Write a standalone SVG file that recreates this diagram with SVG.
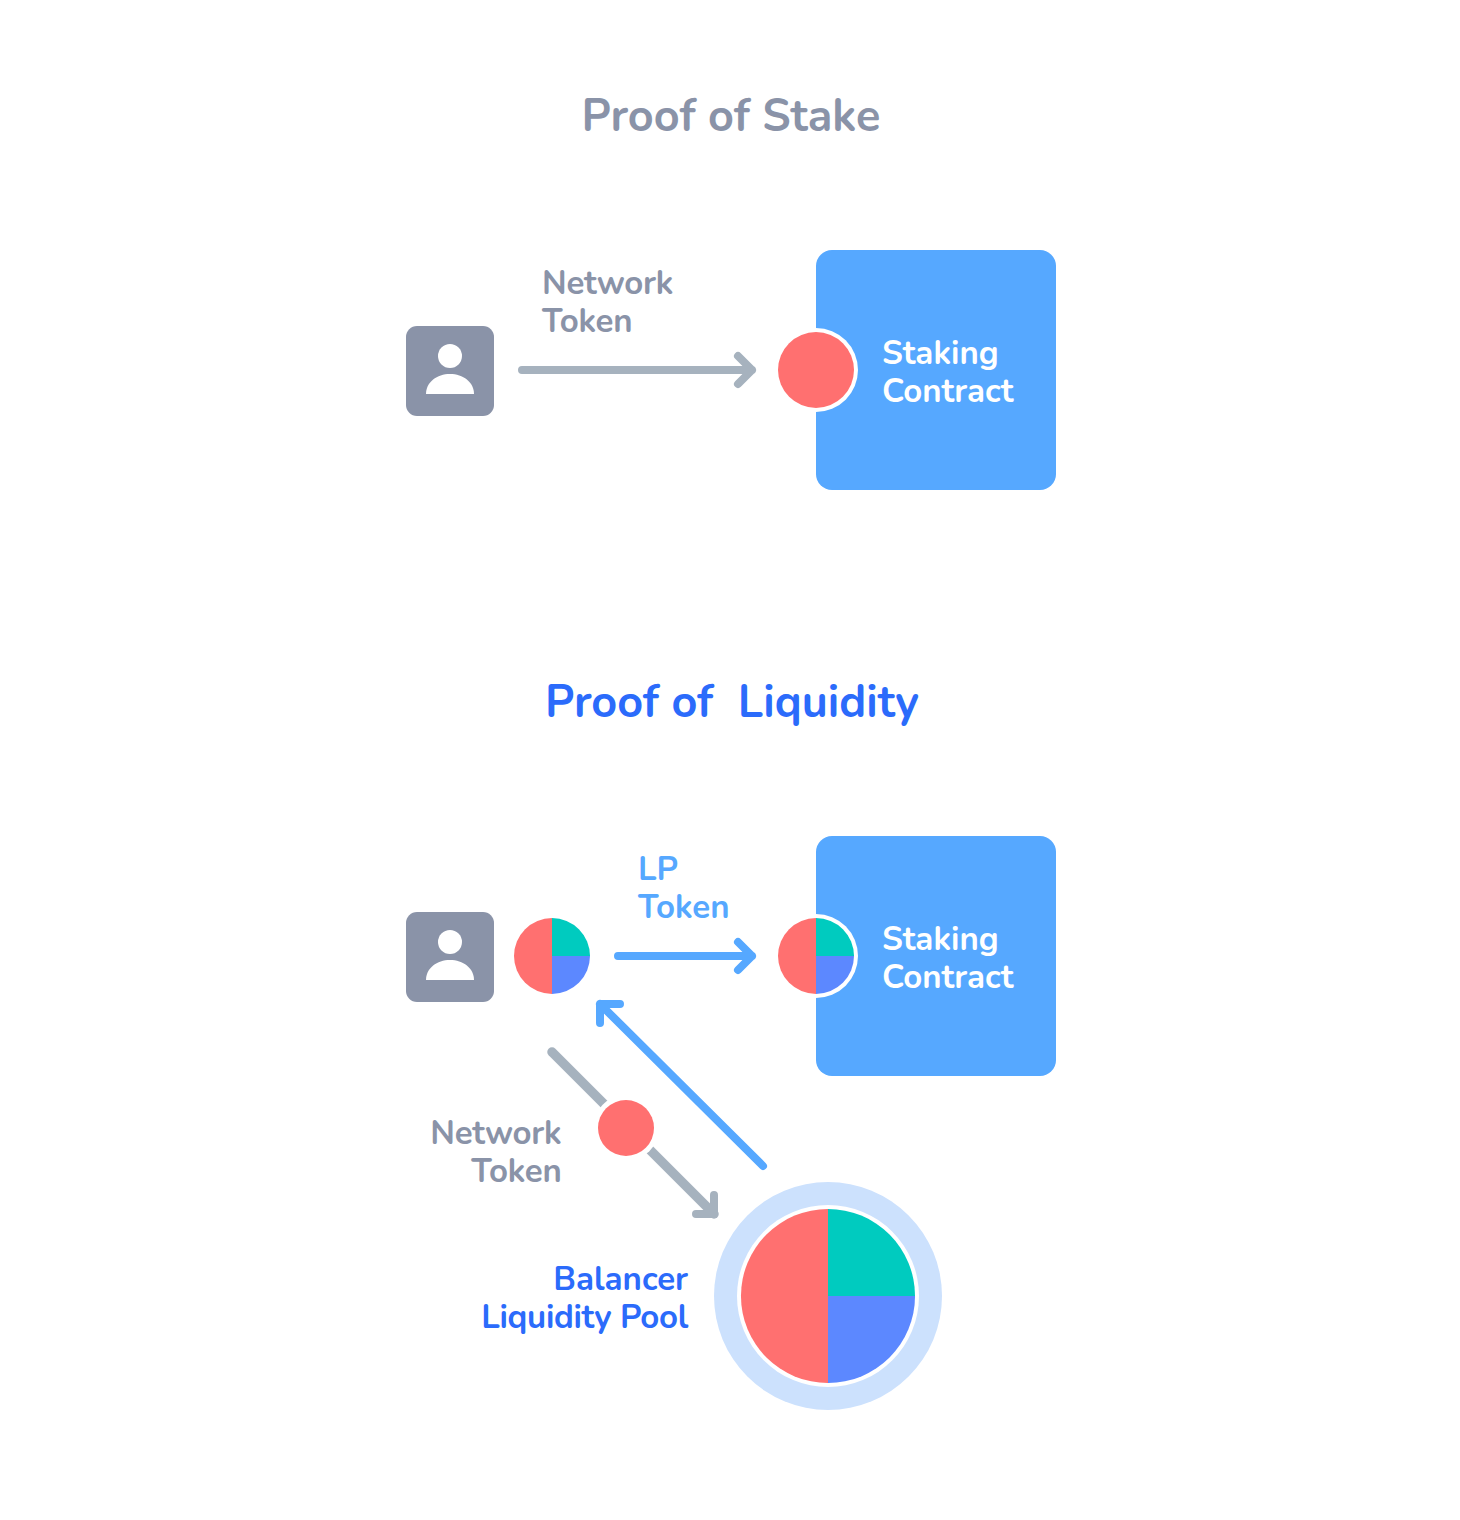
<svg xmlns="http://www.w3.org/2000/svg" width="1460" height="1520" viewBox="0 0 1460 1520">
<style>
text{font-family:"Nunito","Noto Sans","Open Sans",sans-serif;font-weight:700}
.t{font-size:45px;text-anchor:middle}
.l{font-size:33px}
.n{letter-spacing:-.25px}
.g{fill:#8A93A8}.w{fill:#fff}.b{fill:#2B6BFB}.lb{fill:#56A8FF}
.box{fill:#56A8FF}
.av{fill:#8A93A8}
.gl{stroke:#A6B2BE;stroke-width:8;fill:none;stroke-linecap:round;stroke-linejoin:round}
.bl{stroke:#56A8FF;stroke-width:8;fill:none;stroke-linecap:round;stroke-linejoin:round}
</style>
<defs>
<g id="person"><rect width="88" height="90" rx="11" class="av"/><circle cx="44" cy="30" r="12" class="w"/><path class="w" d="M20 68C20 56 31 48 44 48S68 56 68 68Z"/></g>
<g id="pie38"><path fill="#FF7070" d="M0-38A38 38 0 0 0 0 38Z"/><path fill="#00CBBF" d="M0 0V-38A38 38 0 0 1 38 0Z"/><path fill="#5C88FF" d="M0 0H38A38 38 0 0 1 0 38Z"/></g>
</defs>
<rect width="1460" height="1520" fill="#fff"/>
<text class="t g" x="731" y="130.500">Proof of Stake</text>
<g id="user1"><use href="#person" x="406" y="326"/></g>
<g id="contract1"><rect x="816" y="250" width="240" height="240" rx="16" class="box"/><circle cx="816" cy="370" r="42" fill="#fff"/><circle cx="816" cy="370" r="38" fill="#FF7070"/><text class="l w" y="364"><tspan x="882">Staking</tspan><tspan x="882" dy="38">Contract</tspan></text></g>
<text class="l g n" y="294"><tspan x="542">Network</tspan><tspan x="542" dy="38">Token</tspan></text>
<text class="t b" x="732" y="716.500" xml:space="preserve">Proof of  Liquidity</text>
<g id="user2"><use href="#person" x="406" y="912"/></g>
<g id="lp"><use href="#pie38" x="552" y="956"/></g>
<g id="contract2"><rect x="816" y="836" width="240" height="240" rx="16" class="box"/><circle cx="816" cy="956" r="42" fill="#fff"/><use href="#pie38" x="816" y="956"/><text class="l w" y="950"><tspan x="882">Staking</tspan><tspan x="882" dy="38">Contract</tspan></text></g>
<g id="pool"><circle cx="828" cy="1296" r="114" fill="#CCE1FD"/><circle cx="828" cy="1296" r="91" fill="#fff"/><use href="#pie38" transform="translate(828 1296) scale(2.290)"/><text class="l b" y="1290" text-anchor="end"><tspan x="688">Balancer</tspan><tspan x="688" dy="38" letter-spacing="-.3">Liquidity Pool</tspan></text></g>
<g id="connectors">
<path class="gl" d="M522 370H752M738 356L752 370L738 384"/>
<path class="bl" d="M618 956H752M738 942L752 956L738 970"/>
<path class="bl" d="M763 1166L600 1004M600 1023V1004H620"/>
<path class="gl" d="M696 1214H714V1195"/>
<path class="gl" stroke-width="9.500" style="stroke-width:9.500px" d="M552 1052L714 1214"/>
</g>
<g id="token"><circle cx="626" cy="1128" r="33" fill="#fff"/><circle cx="626" cy="1128" r="28" fill="#FF7070"/></g>
<text class="l lb" y="880"><tspan x="638">LP</tspan><tspan x="638" dy="38">Token</tspan></text>
<text class="l g n" y="1144" text-anchor="end"><tspan x="561.500">Network</tspan><tspan x="561.500" dy="38">Token</tspan></text>
</svg>
